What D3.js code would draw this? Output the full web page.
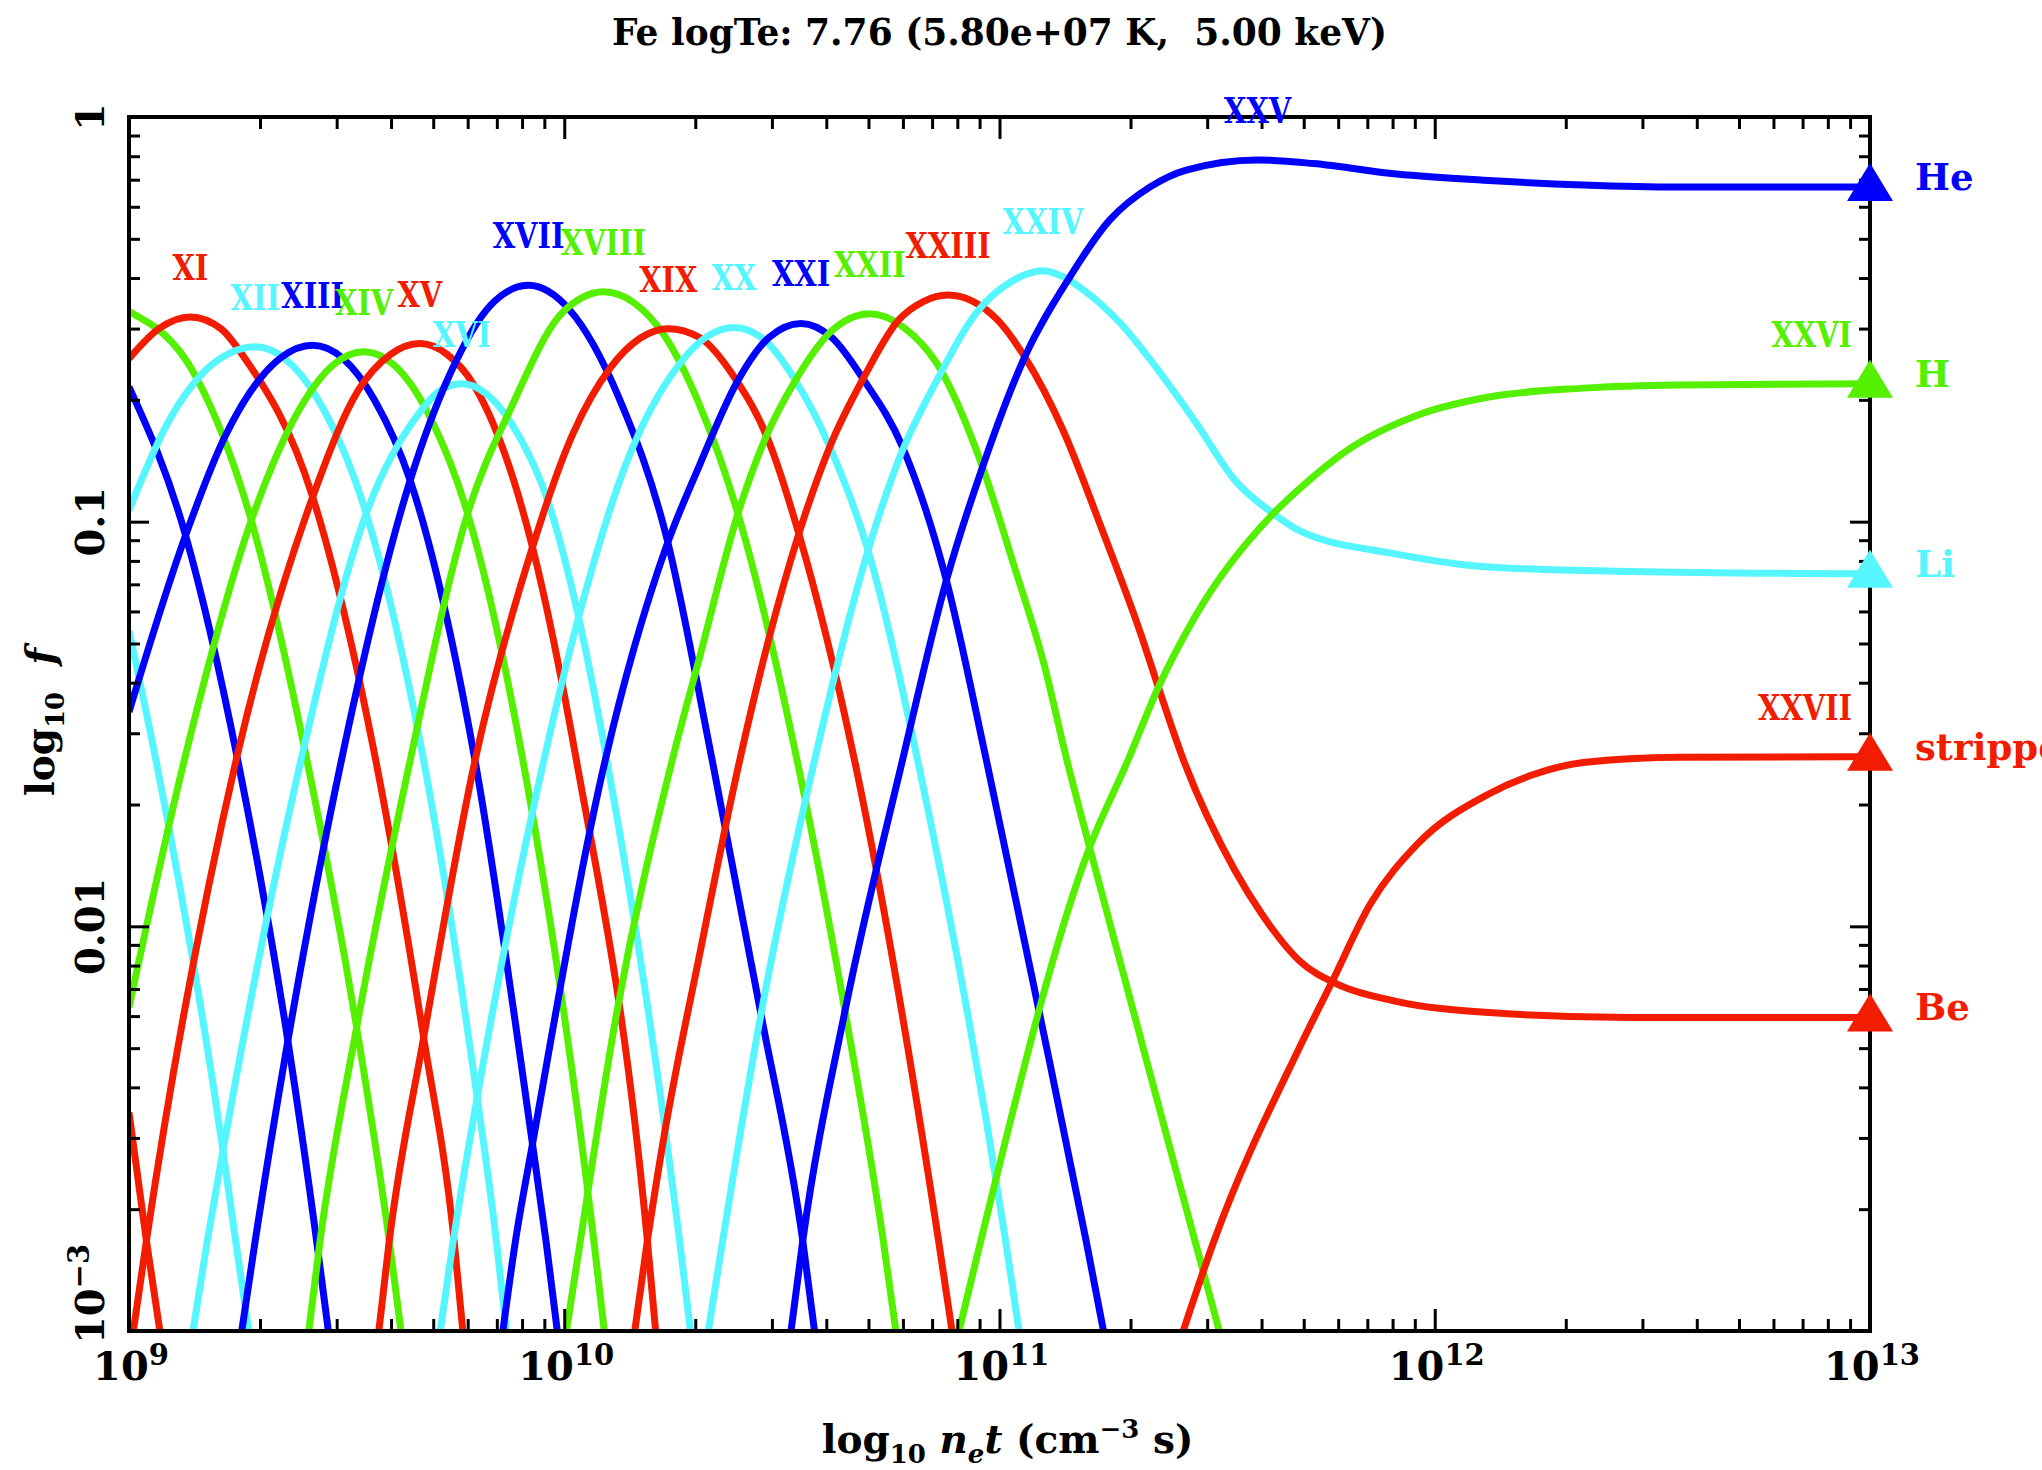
<!DOCTYPE html>
<html>
<head>
<meta charset="utf-8">
<script src="https://cdn.jsdelivr.net/npm/d3@7"></script>
<style>
    html, body { margin: 0; padding: 0; background: #fff; }
    svg { display: block; }
    text { font-family: "DejaVu Serif", serif; font-weight: bold; fill: #000; }
    .axis line { stroke: #000; stroke-width: 3px; }
    .axis path.domain { display: none; }
    .ion_label { font-size: 36px; }
</style>
</head>
<body>
<svg id="svgFeNei" width="2042" height="1470"></svg>
<script>
// ion names, cycle of colours (red, cyan, blue, green)
var ionNames = ["VII", "VIII", "IX", "X", "XI", "XII", "XIII", "XIV", "XV", "XVI", "XVII",
    "XVIII", "XIX", "XX", "XXI", "XXII", "XXIII", "XXIV", "XXV", "XXVI", "XXVII"];
var lineColors = ["#f21c00", "#55f6ff", "#0000ff", "#55f000"];

// [log10 n_e t, log10 f]
var fe07 = [[9.000, -2.460], [9.040, -2.777], [9.071, -3.000]];
var fe08 = [[9.000, -1.270], [9.062, -1.590], [9.215, -2.547], [9.245, -2.777], [9.275, -3.000]];
var fe09 = [[9.000, -0.667], [9.130, -1.034], [9.250, -1.590], [9.365, -2.283], [9.431, -2.777], [9.458, -3.000]];
var fe10 = [[9.000, -0.481], [9.154, -0.642], [9.281, -0.997], [9.409, -1.590], [9.523, -2.250], [9.598, -2.777], [9.625, -3.000]];
var fe11 = [[9.000, -0.597], [9.071, -0.521], [9.141, -0.494], [9.211, -0.523], [9.264, -0.593], [9.422, -0.939], [9.567, -1.590], [9.677, -2.275], [9.747, -2.777], [9.767, -3.000]];
var fe12 = [[9.000, -0.972], [9.088, -0.758], [9.176, -0.626], [9.233, -0.583], [9.290, -0.568], [9.360, -0.599], [9.430, -0.691], [9.545, -0.980], [9.677, -1.590], [9.800, -2.423], [9.844, -2.777], [9.867, -3.000]];
var fe13 = [[9.000, -1.470], [9.130, -1.034], [9.220, -0.791], [9.351, -0.593], [9.422, -0.564], [9.492, -0.597], [9.565, -0.701], [9.646, -0.898], [9.795, -1.590], [9.927, -2.538], [9.958, -2.777], [9.984, -3.000]];
var fe14 = [[9.000, -2.200], [9.127, -1.590], [9.281, -0.997], [9.395, -0.716], [9.470, -0.612], [9.540, -0.580], [9.610, -0.614], [9.690, -0.738], [9.778, -0.980], [9.905, -1.590], [10.068, -2.777], [10.092, -3.000]];
var fe15 = [[9.010, -3.000], [9.040, -2.777], [9.246, -1.590], [9.422, -0.939], [9.527, -0.675], [9.598, -0.589], [9.668, -0.560], [9.730, -0.586], [9.791, -0.660], [9.927, -1.063], [10.028, -1.590], [10.191, -2.777], [10.210, -3.000]];
var fe16 = [[9.147, -3.000], [9.180, -2.777], [9.215, -2.560], [9.395, -1.590], [9.545, -0.980], [9.668, -0.730], [9.715, -0.676], [9.765, -0.659], [9.820, -0.683], [9.879, -0.758], [9.967, -0.964], [10.033, -1.236], [10.098, -1.590], [10.265, -2.777], [10.290, -3.000]];
var fe17 = [[9.259, -3.000], [9.290, -2.777], [9.365, -2.283], [9.488, -1.590], [9.646, -0.898], [9.738, -0.634], [9.830, -0.466], [9.918, -0.416], [10.011, -0.475], [10.125, -0.692], [10.235, -1.038], [10.340, -1.590], [10.452, -2.217], [10.548, -2.777], [10.575, -3.000]];
var fe18 = [[9.413, -3.000], [9.439, -2.777], [9.523, -2.250], [9.646, -1.590], [9.778, -0.980], [9.879, -0.716], [9.990, -0.490], [10.040, -0.447], [10.090, -0.432], [10.160, -0.459], [10.230, -0.540], [10.311, -0.712], [10.399, -0.980], [10.535, -1.590], [10.645, -2.209], [10.733, -2.777], [10.762, -3.000]];
var fe19 = [[9.574, -3.000], [9.598, -2.777], [9.677, -2.275], [9.795, -1.590], [9.927, -1.063], [10.019, -0.785], [10.107, -0.618], [10.175, -0.546], [10.239, -0.523], [10.311, -0.545], [10.390, -0.642], [10.469, -0.799], [10.539, -1.030], [10.667, -1.590], [10.860, -2.777], [10.891, -3.000]];
var fe20 = [[9.715, -3.000], [9.745, -2.777], [9.800, -2.423], [9.953, -1.590], [10.033, -1.236], [10.142, -0.857], [10.265, -0.610], [10.330, -0.541], [10.390, -0.520], [10.460, -0.551], [10.531, -0.651], [10.610, -0.815], [10.698, -1.071], [10.812, -1.590], [11.014, -2.777], [11.045, -3.000]];
var fe21 = [[9.859, -3.000], [9.888, -2.777], [9.927, -2.538], [10.094, -1.590], [10.235, -1.060], [10.311, -0.860], [10.399, -0.651], [10.470, -0.545], [10.544, -0.510], [10.615, -0.545], [10.689, -0.651], [10.777, -0.815], [10.878, -1.145], [10.970, -1.590], [11.089, -2.200], [11.199, -2.777], [11.239, -3.000]];
var fe22 = [[10.005, -3.000], [10.037, -2.777], [10.120, -2.217], [10.248, -1.590], [10.311, -1.335], [10.399, -0.980], [10.460, -0.799], [10.531, -0.651], [10.620, -0.523], [10.702, -0.486], [10.780, -0.520], [10.856, -0.609], [10.961, -0.865], [11.032, -1.104], [11.102, -1.351], [11.155, -1.590], [11.207, -1.805], [11.449, -2.777], [11.505, -3.000]];
var fe23 = [[10.162, -3.000], [10.191, -2.777], [10.230, -2.514], [10.311, -2.070], [10.403, -1.590], [10.469, -1.294], [10.539, -1.030], [10.610, -0.815], [10.689, -0.642], [10.768, -0.502], [10.825, -0.456], [10.882, -0.440], [10.940, -0.456], [10.996, -0.502], [11.058, -0.593], [11.146, -0.774], [11.234, -1.015], [11.322, -1.269], [11.365, -1.409], [11.423, -1.590], [11.541, -1.862], [11.603, -1.970], [11.689, -2.085], [11.776, -2.143], [11.906, -2.184], [12.124, -2.213], [12.449, -2.225], [13.000, -2.225]];
var fe24 = [[10.331, -3.000], [10.364, -2.777], [10.452, -2.217], [10.575, -1.590], [10.698, -1.071], [10.768, -0.848], [10.856, -0.651], [10.952, -0.477], [11.030, -0.405], [11.100, -0.380], [11.150, -0.397], [11.190, -0.425], [11.278, -0.510], [11.365, -0.626], [11.453, -0.758], [11.541, -0.898], [11.629, -0.980], [11.689, -1.022], [11.906, -1.079], [12.124, -1.112], [12.450, -1.123], [13.000, -1.129]];
var fe25 = [[10.521, -3.000], [10.548, -2.777], [10.645, -2.209], [10.777, -1.590], [10.878, -1.145], [10.961, -0.865], [11.058, -0.593], [11.160, -0.398], [11.253, -0.255], [11.347, -0.172], [11.429, -0.131], [11.593, -0.106], [11.721, -0.115], [11.912, -0.141], [12.124, -0.157], [12.341, -0.168], [12.558, -0.173], [13.000, -0.173]];
var fe26 = [[10.907, -3.000], [10.957, -2.777], [11.207, -1.805], [11.295, -1.590], [11.365, -1.409], [11.453, -1.228], [11.629, -0.980], [11.689, -0.919], [11.797, -0.825], [11.960, -0.737], [12.124, -0.692], [12.341, -0.670], [12.558, -0.662], [13.000, -0.659]];
var fe27 = [[11.422, -3.000], [11.493, -2.777], [11.689, -2.300], [11.765, -2.135], [11.852, -1.945], [11.960, -1.797], [12.124, -1.673], [12.232, -1.623], [12.341, -1.595], [12.558, -1.582], [13.000, -1.581]];

var ionCurves = [fe07, fe08, fe09, fe10, fe11, fe12, fe13, fe14, fe15, fe16, fe17,
    fe18, fe19, fe20, fe21, fe22, fe23, fe24, fe25, fe26, fe27];

// which ions get a numeral over the peak, which one at the right end
var peakLabelled = ["XI", "XII", "XIII", "XIV", "XV", "XVI", "XVII", "XVIII", "XIX",
    "XX", "XXI", "XXII", "XXIII", "XXIV", "XXV"];
var endLabelled = ["XXVI", "XXVII"];

// equilibrium markers on the right axis
var endIons = ["XXV", "XXVI", "XXIV", "XXVII", "XXIII"];
var endNames = ["He", "H", "Li", "stripped", "Be"];

var xDecades = [9, 10, 11, 12, 13];
var yDecades = [0, -1, -2, -3];
var yTickLabels = ["1", "0.1", "0.01", "10"];
var titleText = "Fe logTe: 7.76 (5.80e+07 K,  5.00 keV)";

/**
 * Fe ion fractions versus ionisation age
 */
function createIonFractionChart() {
    var svg = d3.select("#svgFeNei"),
        margin = {top: 117, right: 172, bottom: 139, left: 129},
        width = +svg.attr("width") - margin.left - margin.right,
        height = +svg.attr("height") - margin.top - margin.bottom,
        g = svg.append("g").attr("transform", "translate(" + margin.left + "," + margin.top + ")");

    var x = d3.scaleLinear()
        .domain([9, 13])
        .range([0, width]);

    var y = d3.scaleLinear()
        .domain([-3, 0])
        .range([height, 0]);

    // minor ticks at 2..9 inside every decade
    var minorX = [], minorY = [];
    d3.range(9, 13).forEach(function (n) {
        d3.range(2, 10).forEach(function (k) { minorX.push(n + Math.log10(k)); });
    });
    d3.range(-3, 0).forEach(function (n) {
        d3.range(2, 10).forEach(function (k) { minorY.push(n + Math.log10(k)); });
    });

    function ticks(axis, values, size) {
        return axis.tickValues(values).tickSize(size).tickSizeOuter(0).tickFormat("");
    }

    g.append("defs").append("clipPath")
        .attr("id", "clipFrame")
        .append("rect")
        .attr("width", width)
        .attr("height", height);

    // ion curves
    var line = d3.line()
        .curve(d3.curveMonotoneX)
        .x(function (d) { return x(d[0]); })
        .y(function (d) { return y(d[1]); });

    g.append("g")
        .attr("clip-path", "url(#clipFrame)")
        .selectAll("path")
        .data(ionCurves)
        .enter()
        .append("path")
        .attr("d", line)
        .attr("fill", "none")
        .attr("stroke-width", 7)
        .attr("stroke-linejoin", "round")
        .attr("stroke", function (d, i) { return lineColors[i % 4]; });

    // inward ticks on all four sides: minor then major
    var sides = [
        [function () { return d3.axisBottom(x); }, "translate(0," + height + ")", minorX, xDecades, -12, -22],
        [function () { return d3.axisTop(x); }, null, minorX, xDecades, -12, -22],
        [function () { return d3.axisLeft(y); }, null, minorY, yDecades, -11, -20],
        [function () { return d3.axisRight(y); }, "translate(" + width + ",0)", minorY, yDecades, -11, -20]
    ];
    sides.forEach(function (s) {
        var ax = g.append("g").attr("class", "axis");
        if (s[1]) ax.attr("transform", s[1]);
        ax.append("g").call(ticks(s[0](), s[2], s[4]));
        ax.append("g").call(ticks(s[0](), s[3], s[5]));
    });

    g.append("rect")
        .attr("width", width)
        .attr("height", height)
        .attr("fill", "none")
        .attr("stroke", "#000")
        .attr("stroke-width", 4);

    // x tick labels 10^n
    xDecades.forEach(function (n) {
        var t = g.append("text")
            .attr("x", x(n) + 2)
            .attr("y", height + 49)
            .attr("text-anchor", "middle")
            .style("font-size", "40px")
            .text("10");
        t.append("tspan")
            .attr("dy", -15)
            .style("font-size", "29px")
            .text(n);
    });

    // y tick labels, rotated
    yDecades.forEach(function (v, i) {
        var shift = v === -3 ? -37 : 0;
        var t = g.append("text")
            .attr("transform", "translate(-25," + (y(v) + shift) + ") rotate(-90)")
            .attr("text-anchor", "middle")
            .style("font-size", "40px")
            .text(yTickLabels[i]);
        if (v === -3) {
            t.append("tspan")
                .attr("dy", -15)
                .style("font-size", "29px")
                .text("\u22123");
        }
    });

    // numerals above the peaks
    ionNames.forEach(function (name, i) {
        var pts = ionCurves[i], color = lineColors[i % 4];
        if (peakLabelled.indexOf(name) >= 0) {
            var peak = d3.greatest(pts, function (d) { return d[1]; });
            g.append("text")
                .attr("class", "ion_label")
                .attr("transform", "translate(" + x(peak[0]) + "," + (y(peak[1]) - 37) + ") scale(0.8,1)")
                .attr("text-anchor", "middle")
                .style("fill", color)
                .text(name);
        } else if (endLabelled.indexOf(name) >= 0) {
            var last = pts[pts.length - 1];
            g.append("text")
                .attr("class", "ion_label")
                .attr("transform", "translate(" + (x(last[0]) - 18) + "," + (y(last[1]) - 37) + ") scale(0.8,1)")
                .attr("text-anchor", "end")
                .style("fill", color)
                .text(name);
        }
    });

    // triangles and sequence names on the right axis
    endIons.forEach(function (name, j) {
        var i = ionNames.indexOf(name),
            last = ionCurves[i][ionCurves[i].length - 1],
            px = x(last[0]), py = y(last[1]),
            color = lineColors[i % 4];
        g.append("path")
            .attr("d", "M" + px + "," + (py - 24) + "L" + (px + 23) + "," + (py + 14) + "L" + (px - 23) + "," + (py + 14) + "Z")
            .attr("fill", color);
        g.append("text")
            .attr("x", px + 45)
            .attr("y", py + 3)
            .style("font-size", "37px")
            .style("fill", color)
            .text(endNames[j]);
    });

    // title
    g.append("text")
        .attr("x", width / 2)
        .attr("y", -72)
        .attr("text-anchor", "middle")
        .attr("textLength", 775)
        .attr("lengthAdjust", "spacingAndGlyphs")
        .style("font-size", "37px")
        .style("white-space", "pre")
        .text(titleText);

    // x axis title
    var xt = g.append("text")
        .attr("x", width / 2 + 8)
        .attr("y", height + 122)
        .attr("text-anchor", "middle")
        .style("font-size", "39px");
    xt.append("tspan").text("log");
    xt.append("tspan").attr("dy", 10).style("font-size", "26px").text("10");
    xt.append("tspan").attr("dy", -10).text(" ");
    xt.append("tspan").style("font-style", "italic").text("n");
    xt.append("tspan").attr("dy", 10).style("font-size", "26px").style("font-style", "italic").text("e");
    xt.append("tspan").attr("dy", -10).style("font-style", "italic").text("t");
    xt.append("tspan").text(" (cm");
    xt.append("tspan").attr("dy", -15).style("font-size", "26px").text("\u22123");
    xt.append("tspan").attr("dy", 15).text(" s)");

    // y axis title
    var yt = g.append("text")
        .attr("transform", "translate(-75," + (height / 2 - 2) + ") rotate(-90)")
        .attr("text-anchor", "middle")
        .style("font-size", "39px");
    yt.append("tspan").text("log");
    yt.append("tspan").attr("dy", 10).style("font-size", "26px").text("10");
    yt.append("tspan").attr("dy", -10).text("\u00a0\u00a0");
    yt.append("tspan").style("font-style", "italic").text("f");
}

createIonFractionChart();
</script>
</body>
</html>
